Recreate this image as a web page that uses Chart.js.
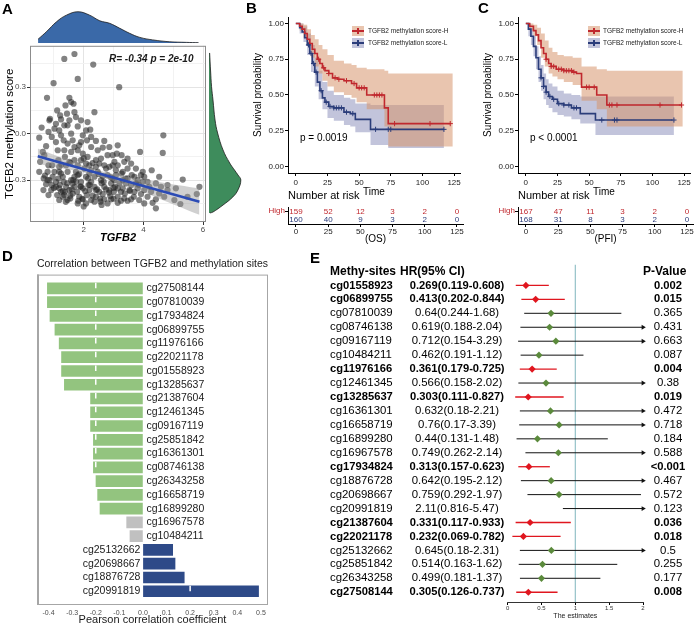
<!DOCTYPE html>
<html>
<head>
<meta charset="utf-8">
<script src="https://cdn.jsdelivr.net/npm/chart.js@4.4.1/dist/chart.umd.min.js"></script>
<style>
  body { margin: 0; background: #fff; }
  #page { position: relative; width: 695px; height: 627px; overflow: hidden; font-family: 'Liberation Sans', Arial, Helvetica, sans-serif; }
  #page canvas { position: absolute; }
  .txt { position: absolute; white-space: nowrap; color: #000; }
</style>
</head>
<body>
<div id="page">
  <canvas id="densTop" width="235" height="45" style="left:0px;top:0px"></canvas>
  <canvas id="scatterA" width="215" height="205" style="left:0px;top:40px"></canvas>
  <canvas id="densRight" width="45" height="190" style="left:205px;top:40px"></canvas>
  <canvas id="kmB" width="230" height="200" style="left:235px;top:0px"></canvas>
  <canvas id="riskB" width="230" height="55" style="left:235px;top:190px"></canvas>
  <canvas id="kmC" width="230" height="200" style="left:465px;top:0px"></canvas>
  <canvas id="riskC" width="230" height="55" style="left:465px;top:190px"></canvas>
  <canvas id="corD" width="290" height="377" style="left:0px;top:250px"></canvas>
  <canvas id="forestE" width="375" height="387" style="left:320px;top:240px"></canvas>
</div>
<script>
// ---- panel A : scatter TGFB2 vs methylation score ----
var scatterX = [1.69,1.35,2.32,1.80,0.99,3.19,0.77,1.52,0.87,1.24,
  1.58,1.66,1.39,1.11,1.69,1.44,2.36,1.21,1.52,1.91,
  0.59,0.51,0.82,1.02,1.18,0.93,1.24,1.46,1.80,2.22,
  1.97,2.25,1.91,2.41,2.69,2.64,1.85,1.69,1.33,1.07,
  0.74,0.68,4.67,4.65,3.89,3.11,3.47,3.27,2.97,3.36,
  3.03,2.80,2.58,2.41,2.13,1.97,1.58,1.37,1.15,0.94,
  0.51,0.54,0.79,1.02,1.24,1.46,1.74,2.02,2.25,2.47,
  2.80,3.08,3.27,3.47,3.70,4.03,4.28,4.53,3.61,2.97,
  2.58,2.25,1.91,1.58,1.33,1.07,0.96,0.74,0.65,0.91,
  1.18,1.41,1.69,1.97,2.19,2.36,2.69,2.92,3.14,3.42,
  3.59,3.81,4.03,4.20,4.42,4.59,4.81,5.09,5.32,5.88,
  1.11,1.35,1.63,1.85,2.11,2.41,2.64,2.89,3.14,3.38,
  3.68,3.92,4.14,4.42,4.70,5.04,5.24,4.42,1.80,2.80,
  3.14,3.47,4.03,1.46,0.82,5.48,5.79,1.82,1.18,2.36,
  2.52,3.01,1.78,1.52,2.75,3.31,2.97,2.08,1.69,1.41,
  1.80,1.35,1.63,2.11,2.69,2.41,3.75,3.98,3.03,3.31,
  3.81,4.14,1.30,1.69,2.08,2.36,3.25,3.70,3.36,2.69,
  2.08,1.24,
  1.2,1.45,1.6,1.75,1.9,2.05,2.2,2.45,2.6,2.85,3.0,1.3,1.55,2.3,2.55,1.95,2.75,3.2,1.0,
  1.65,2.15,2.5,1.85,1.15,3.55,3.85,2.0,1.55,2.3,1.25,0.85,0.7,2.9,3.4,1.4,2.0,2.6,3.0,
  1.18,1.52,1.91,2.19,2.52,2.86,3.14,3.59,0.79,1.07,1.37,1.63,1.89,2.16,2.41,2.67,2.86,3.05,3.31,3.53,
  3.75,3.98,4.26,4.53,4.81,1.30,1.55,1.97,2.25,2.56,2.92,3.25,3.59,3.86,4.31,1.18,1.80,2.19,2.64,3.08,
  3.47,3.92,0.93,0.66,0.82,0.63,1.13,1.46,1.80,2.25,2.47,2.86,3.14,1.58,2.08,1.35,1.07,0.85,1.74,2.13];
var scatterY = [0.514,0.482,0.446,0.353,0.326,0.300,0.231,0.231,0.096,0.092,
  0.204,0.193,0.182,0.150,0.139,0.129,0.139,0.118,0.086,0.086,
  0.039,-0.026,0.011,0.032,0.021,-0.021,-0.011,0.054,0.047,0.026,
  -0.011,-0.021,-0.054,-0.047,-0.047,-0.090,-0.075,-0.086,-0.043,-0.054,
  -0.081,-0.139,-0.011,-0.124,-0.118,-0.129,-0.161,-0.139,-0.139,-0.182,
  -0.182,-0.139,-0.161,-0.171,-0.150,-0.129,-0.118,-0.150,-0.171,-0.204,
  -0.246,-0.182,-0.246,-0.246,-0.257,-0.246,-0.246,-0.225,-0.236,-0.246,
  -0.268,-0.236,-0.257,-0.225,-0.278,-0.278,-0.236,-0.278,-0.268,-0.289,
  -0.300,-0.311,-0.311,-0.300,-0.311,-0.311,-0.278,-0.326,-0.364,-0.364,
  -0.353,-0.343,-0.343,-0.353,-0.364,-0.343,-0.343,-0.321,-0.353,-0.321,
  -0.332,-0.353,-0.364,-0.343,-0.321,-0.343,-0.364,-0.353,-0.296,-0.343,
  -0.396,-0.396,-0.386,-0.407,-0.396,-0.407,-0.390,-0.403,-0.407,-0.386,
  -0.407,-0.390,-0.407,-0.424,-0.407,-0.428,-0.454,-0.482,-0.450,-0.450,
  -0.446,-0.433,-0.450,-0.428,-0.396,-0.407,-0.390,-0.433,-0.428,-0.439,
  -0.375,-0.375,-0.375,-0.364,-0.225,-0.246,-0.204,-0.193,-0.171,-0.204,
  -0.204,-0.107,-0.043,-0.043,-0.204,-0.214,-0.225,-0.246,-0.300,-0.300,
  -0.300,-0.311,-0.278,-0.278,-0.278,-0.278,-0.375,-0.375,-0.418,-0.424,
  -0.450,-0.375,
  -0.33,-0.32,-0.36,-0.31,-0.34,-0.37,-0.33,-0.36,-0.32,-0.38,-0.35,-0.37,-0.40,-0.40,-0.42,-0.42,-0.36,-0.32,-0.35,
  -0.30,-0.29,-0.26,-0.26,-0.29,-0.37,-0.33,-0.16,-0.19,-0.19,-0.20,-0.30,-0.27,-0.28,-0.29,-0.44,-0.47,-0.46,-0.42,
  -0.214,-0.182,-0.171,-0.204,-0.193,-0.214,-0.204,-0.193,-0.300,-0.343,-0.375,-0.321,-0.343,-0.332,-0.364,-0.311,-0.364,-0.343,-0.353,-0.364,
  -0.321,-0.311,-0.375,-0.386,-0.332,-0.407,-0.418,-0.424,-0.428,-0.439,-0.424,-0.433,-0.424,-0.428,-0.446,-0.246,-0.268,-0.257,-0.274,-0.268,
  -0.289,-0.268,-0.332,-0.289,-0.204,-0.118,-0.107,-0.064,-0.107,-0.086,-0.107,-0.086,-0.075,0.0,0.021,0.054,0.064,0.086,0.107,0.075];
var regLineX = [0.46, 5.88];
var regLineY = [-0.146, -0.439];
var regBandX = [0.46, 1.5, 2.5, 3.5, 4.5, 5.88];
var regBandLower = [-0.196, -0.232, -0.274, -0.34, -0.416, -0.524];
var regBandUpper = [-0.096, -0.172, -0.238, -0.28, -0.312, -0.354];
var scatterTicksX = [1, 2, 3, 4, 5, 6];
var scatterTicksY = [-0.45, -0.3, -0.15, 0, 0.15, 0.3, 0.45];

// marginal densities
var densTopX = [0.47, 0.75, 1.09, 1.42, 1.81, 2.20, 2.54, 2.87, 3.21, 3.54, 3.88, 4.31, 4.88, 5.44, 5.85];
var densTopH = [0.12, 0.36, 0.68, 0.89, 1.0, 0.89, 0.71, 0.63, 0.47, 0.31, 0.18, 0.10, 0.04, 0.02, 0.01];
var densRightY = [0.516, 0.40, 0.30, 0.214, 0.085, 0.002, -0.107, -0.191, -0.236, -0.268, -0.30, -0.364, -0.409, -0.461, -0.506, -0.512];
var densRightH = [0.02, 0.05, 0.08, 0.125, 0.19, 0.27, 0.44, 0.65, 0.80, 0.91, 1.0, 0.91, 0.75, 0.44, 0.125, 0.03];

// ---- panels B and C : survival ----
var riskTimes = [0, 25, 50, 75, 100, 125];
var osRiskHigh = [159, 52, 12, 3, 2, 0];
var osRiskLow = [160, 40, 9, 3, 2, 0];
var pfiRiskHigh = [167, 47, 11, 3, 2, 0];
var pfiRiskLow = [168, 31, 8, 3, 2, 0];

var osHighT = [0, 3, 5, 7, 9, 11, 13, 15, 17, 19, 21, 23, 26, 29, 33, 38, 44, 48, 56, 70, 73, 122];
var osHighS = [1, 0.98, 0.96, 0.93, 0.89, 0.86, 0.82, 0.79, 0.75, 0.72, 0.69, 0.67, 0.65, 0.62, 0.61, 0.60, 0.58, 0.55, 0.50, 0.41, 0.30, 0.30];
var osLowT = [0, 3, 5, 7, 9, 11, 13, 15, 17, 19, 21, 23, 26, 30, 38, 43, 47, 59, 117];
var osLowS = [1, 0.97, 0.94, 0.90, 0.85, 0.79, 0.72, 0.66, 0.59, 0.53, 0.48, 0.45, 0.42, 0.41, 0.38, 0.37, 0.33, 0.26, 0.26];
var osHighBandT = [0, 3, 6, 9, 12, 15, 18, 21, 25, 30, 38, 44, 48, 56, 70, 73, 124];
var osHighUpper = [1, 1, 0.99, 0.96, 0.92, 0.89, 0.85, 0.82, 0.78, 0.74, 0.72, 0.71, 0.69, 0.68, 0.67, 0.65, 0.65];
var osHighLower = [1, 0.95, 0.90, 0.84, 0.76, 0.70, 0.65, 0.60, 0.56, 0.52, 0.50, 0.48, 0.45, 0.40, 0.28, 0.14, 0.14];
var osLowBandT = [0, 3, 6, 9, 12, 15, 18, 21, 25, 30, 38, 43, 47, 59, 73, 117];
var osLowUpper = [1, 1, 0.98, 0.93, 0.85, 0.76, 0.67, 0.59, 0.53, 0.50, 0.48, 0.47, 0.44, 0.43, 0.43, 0.43];
var osLowLower = [1, 0.93, 0.87, 0.78, 0.66, 0.56, 0.47, 0.40, 0.34, 0.32, 0.29, 0.28, 0.24, 0.15, 0.13, 0.13];
var osHighCens = [18, 22, 26, 31, 34, 40, 46, 50, 52, 54, 62, 64, 66, 68, 78, 106, 122];
var osLowCens = [10, 12, 14, 16, 20, 24, 27, 30, 32, 34, 36, 40, 45, 63, 73, 75, 117];

var pfiHighT = [0, 3, 6, 8, 10, 12, 14, 16, 18, 20, 24, 30, 37, 40, 44, 56, 64, 123];
var pfiHighS = [1, 0.98, 0.95, 0.92, 0.88, 0.83, 0.79, 0.75, 0.72, 0.70, 0.68, 0.67, 0.66, 0.65, 0.555, 0.50, 0.43, 0.43];
var pfiLowT = [0, 2, 4, 6, 8, 10, 12, 14, 16, 18, 21, 25, 30, 36, 43, 55, 116];
var pfiLowS = [1, 0.96, 0.91, 0.84, 0.76, 0.68, 0.62, 0.56, 0.52, 0.49, 0.47, 0.44, 0.43, 0.41, 0.37, 0.325, 0.325];
var pfiHighBandT = [0, 3, 6, 9, 12, 15, 18, 21, 25, 30, 37, 44, 56, 64, 124];
var pfiHighUpper = [1, 1, 0.99, 0.97, 0.93, 0.88, 0.83, 0.80, 0.78, 0.77, 0.76, 0.70, 0.68, 0.67, 0.67];
var pfiHighLower = [1, 0.95, 0.91, 0.85, 0.76, 0.70, 0.65, 0.63, 0.61, 0.59, 0.57, 0.46, 0.40, 0.28, 0.28];
var pfiLowBandT = [0, 2, 4, 6, 8, 10, 12, 14, 16, 18, 21, 25, 30, 36, 43, 55, 117];
var pfiLowUpper = [1, 1, 0.97, 0.91, 0.84, 0.77, 0.71, 0.65, 0.61, 0.58, 0.56, 0.53, 0.51, 0.50, 0.49, 0.49, 0.49];
var pfiLowLower = [1, 0.91, 0.85, 0.77, 0.68, 0.59, 0.53, 0.47, 0.43, 0.41, 0.38, 0.36, 0.35, 0.33, 0.30, 0.22, 0.22];
var pfiHighCens = [16, 20, 22, 26, 28, 30, 32, 34, 36, 38, 48, 50, 54, 66, 68, 72, 106, 123];
var pfiLowCens = [12, 14, 16, 19, 22, 26, 30, 34, 38, 40, 60, 70, 72, 117];

// ---- panel D : correlation bars ----
var corSites = ['cg27508144','cg07810039','cg17934824','cg06899755','cg11976166','cg22021178','cg01558923','cg13285637',
  'cg21387604','cg12461345','cg09167119','cg25851842','cg16361301','cg08746138','cg26343258','cg16658719','cg16899280',
  'cg16967578','cg10484211','cg25132662','cg20698667','cg18876728','cg20991819'];
var corValues = [-0.405,-0.405,-0.394,-0.373,-0.355,-0.345,-0.345,-0.333,-0.222,-0.222,-0.222,-0.21,-0.21,-0.21,
  -0.199,-0.192,-0.182,-0.069,-0.055,0.126,0.136,0.175,0.49];
var corTicks = [-0.4, -0.3, -0.2, -0.1, 0, 0.1, 0.2, 0.3, 0.4, 0.5];

// ---- panel E : forest ----
var forestSites = ['cg01558923','cg06899755','cg07810039','cg08746138','cg09167119','cg10484211','cg11976166','cg12461345',
  'cg13285637','cg16361301','cg16658719','cg16899280','cg16967578','cg17934824','cg18876728','cg20698667','cg20991819',
  'cg21387604','cg22021178','cg25132662','cg25851842','cg26343258','cg27508144'];
var forestHR = [0.269,0.413,0.64,0.619,0.712,0.462,0.361,0.566,0.303,0.632,0.76,0.44,0.749,0.313,0.642,0.759,2.11,0.331,0.232,0.645,0.514,0.499,0.305];
var forestLo = [0.119,0.202,0.244,0.188,0.154,0.191,0.179,0.158,0.111,0.18,0.17,0.131,0.262,0.157,0.195,0.292,0.816,0.117,0.069,0.18,0.163,0.181,0.126];
var forestHi = [0.608,0.844,1.68,2.04,3.29,1.12,0.725,2.02,0.827,2.21,3.39,1.48,2.14,0.623,2.12,1.97,5.47,0.933,0.782,2.31,1.62,1.37,0.737];
var forestP = ['0.002','0.015','0.365','0.431','0.663','0.087','0.004','0.38','0.019','0.472','0.718','0.184','0.588','<0.001',
  '0.467','0.572','0.123','0.036','0.018','0.5','0.255','0.177','0.008'];
var forestTicks = [0, 0.5, 1, 1.5, 2];

var FONT = "'Liberation Sans', Arial, Helvetica, sans-serif";
Chart.defaults.font.family = FONT;
Chart.defaults.color = '#000';
Chart.defaults.animation = false;
Chart.defaults.responsive = false;
Chart.defaults.plugins.legend.display = false;
Chart.defaults.plugins.tooltip.enabled = false;

var page = document.getElementById('page');
function putText(str, left, midY, size, style) {
  var d = document.createElement('div');
  d.className = 'txt';
  d.textContent = str;
  d.style.left = left + 'px';
  d.style.top = (midY - size * 0.49) + 'px';
  d.style.fontSize = size + 'px';
  d.style.lineHeight = size + 'px';
  if (style) Object.assign(d.style, style);
  page.appendChild(d);
  return d;
}
function fixedTicks(list) {
  return function (scale) { scale.ticks = list.map(function (v) { return { value: v }; }); };
}
function pts(xs, ys) {
  return xs.map(function (x, i) { return { x: x, y: ys[i] }; });
}

var framePlugin = {
  id: 'frame',
  afterDatasetsDraw: function (chart, args, opts) {
    var a = chart.chartArea, ctx = chart.ctx;
    ctx.save();
    ctx.strokeStyle = opts.color || '#888';
    ctx.lineWidth = 1;
    ctx.strokeRect(a.left + 0.5, a.top + 0.5, a.right - a.left - 1, a.bottom - a.top - 1);
    if (opts.leftWidth) {
      ctx.lineWidth = opts.leftWidth;
      ctx.beginPath();
      ctx.moveTo(a.left + 1, a.top);
      ctx.lineTo(a.left + 1, a.bottom);
      ctx.stroke();
    }
    ctx.restore();
  }
};

// letters
putText('A', 2, 8, 15, { fontWeight: 'bold' });
putText('B', 246, 7.5, 15, { fontWeight: 'bold' });
putText('C', 478, 7.5, 15, { fontWeight: 'bold' });
putText('D', 2, 255, 15, { fontWeight: 'bold' });
putText('E', 310, 257, 15, { fontWeight: 'bold' });

// top density
new Chart(document.getElementById('densTop'), {
  type: 'line',
  data: { datasets: [{ data: pts(densTopX, densTopH), fill: 'origin', backgroundColor: '#3a69a8',
    borderColor: '#1a1a1a', borderWidth: 0.8, pointRadius: 0, tension: 0.4 }] },
  options: {
    layout: { padding: { left: 30, right: 29, top: 8, bottom: 2 } },
    scales: {
      x: { type: 'linear', min: 0.2, max: 6.1, display: false },
      y: { type: 'linear', min: 0, max: 1.12, display: false }
    }
  }
});

// right density
new Chart(document.getElementById('densRight'), {
  type: 'line',
  data: { datasets: [{ data: pts(densRightH, densRightY), fill: 'origin', backgroundColor: '#3e8c5c',
    borderColor: '#1a1a1a', borderWidth: 0.8, pointRadius: 0, tension: 0.4 }] },
  options: {
    indexAxis: 'y',
    layout: { padding: { left: 4, right: 6, top: 5, bottom: 8 } },
    scales: {
      x: { type: 'linear', min: 0, max: 1.1, display: false },
      y: { type: 'linear', min: -0.57, max: 0.567, display: false }
    }
  }
});

// scatter A
new Chart(document.getElementById('scatterA'), {
  type: 'line',
  data: { datasets: [
    { data: pts(regBandX, regBandUpper), fill: '+1', backgroundColor: 'rgba(150,150,150,0.45)', borderWidth: 0,
      pointRadius: 0, tension: 0.3, order: 2 },
    { data: pts(regBandX, regBandLower), fill: false, borderWidth: 0, pointRadius: 0, tension: 0.3, order: 2 },
    { data: pts(regLineX, regLineY), borderColor: '#2b4bb5', borderWidth: 2.5, pointRadius: 0, order: 1 },
    { data: pts(scatterX, scatterY), showLine: false, pointRadius: 3.1, pointBorderWidth: 0,
      pointBackgroundColor: 'rgba(40,40,40,0.58)', order: 3 }
  ] },
  options: {
    layout: { padding: { top: 5, right: 9 } },
    plugins: { frame: { color: '#8c8c8c' } },
    scales: {
      x: {
        type: 'linear', min: 0.2, max: 6.1,
        afterBuildTicks: fixedTicks(scatterTicksX),
        afterFit: function (s) { s.height = 23; },
        ticks: { font: { size: 8 }, color: '#4d4d4d', padding: 0,
          callback: function (v) { return v % 2 === 0 ? String(v) : ''; } },
        grid: { color: function (c) { return c.tick && c.tick.value % 2 === 0 ? '#e4e4e4' : '#f2f2f2'; },
          tickColor: function (c) { return c.tick && c.tick.value % 2 === 0 ? '#333' : 'rgba(0,0,0,0)'; },
          tickLength: 3 },
        border: { display: false },
        title: { display: true, text: 'TGFB2', font: { size: 11, weight: 'bold', style: 'italic' }, padding: 0 }
      },
      y: {
        type: 'linear', min: -0.57, max: 0.567,
        afterBuildTicks: fixedTicks(scatterTicksY),
        afterFit: function (s) { s.width = 30; },
        ticks: { font: { size: 8 }, color: '#4d4d4d', padding: 1,
          callback: function (v) { return Math.round(v * 100) % 30 === 0 ? v.toFixed(1) : ''; } },
        grid: { color: function (c) { return c.tick && Math.round(c.tick.value * 100) % 30 === 0 ? '#e4e4e4' : '#f2f2f2'; },
          tickColor: function (c) { return c.tick && Math.round(c.tick.value * 100) % 30 === 0 ? '#333' : 'rgba(0,0,0,0)'; },
          tickLength: 3 },
        border: { display: false },
        title: { display: true, text: 'TGFB2 methylation score', font: { size: 11.5 }, padding: { top: 3, bottom: 0 } }
      }
    }
  },
  plugins: [framePlugin]
});
putText('R= -0.34  p = 2e-10', 109, 59, 10, { fontWeight: 'bold', fontStyle: 'italic', color: '#1a1a1a' });

// survival panels
var RED = '#c0282e', NAVY = '#2b3d7a';
var RED_BAND = 'rgba(215,150,110,0.55)', NAVY_BAND = 'rgba(120,125,175,0.45)';

function stepAt(ts, ss, t) {
  var v = ss[0];
  for (var i = 0; i < ts.length; i++) { if (ts[i] <= t) v = ss[i]; }
  return v;
}
function cens(times, ts, ss) {
  return times.map(function (t) { return { x: t, y: stepAt(ts, ss, t) }; });
}

function kmChart(id, c) {
  new Chart(document.getElementById(id), {
    type: 'line',
    data: { datasets: [
      { data: pts(c.hiBandT, c.hiUp), stepped: true, fill: '+1', backgroundColor: RED_BAND, borderWidth: 0, pointRadius: 0, order: 3 },
      { data: pts(c.hiBandT, c.hiLo), stepped: true, fill: false, borderWidth: 0, pointRadius: 0, order: 3 },
      { data: pts(c.loBandT, c.loUp), stepped: true, fill: '+1', backgroundColor: NAVY_BAND, borderWidth: 0, pointRadius: 0, order: 3 },
      { data: pts(c.loBandT, c.loLo), stepped: true, fill: false, borderWidth: 0, pointRadius: 0, order: 3 },
      { data: pts(c.hiT, c.hiS), stepped: true, borderColor: RED, borderWidth: 1.6, pointRadius: 0, order: 1 },
      { data: pts(c.loT, c.loS), stepped: true, borderColor: NAVY, borderWidth: 1.6, pointRadius: 0, order: 1 },
      { data: cens(c.hiCens, c.hiT, c.hiS), showLine: false, pointStyle: 'cross', pointRadius: 2.6,
        pointBorderColor: RED, pointBorderWidth: 1, order: 0 },
      { data: cens(c.loCens, c.loT, c.loS), showLine: false, pointStyle: 'cross', pointRadius: 2.6,
        pointBorderColor: NAVY, pointBorderWidth: 1, order: 0 }
    ] },
    options: {
      layout: { padding: { top: 17, right: 2 } },
      scales: {
        x: {
          type: 'linear', min: -6.2, max: 129.7,
          afterBuildTicks: fixedTicks(riskTimes),
          afterFit: function (s) { s.height = 27; },
          ticks: { font: { size: 8 }, color: '#222', padding: 2 },
          grid: { drawOnChartArea: false, tickLength: 3, tickColor: '#000' },
          border: { color: '#000', width: 1 },
          title: { display: true, text: 'Time', font: { size: 10 }, padding: { top: 0, bottom: 2 } }
        },
        y: {
          type: 'linear', min: -0.045, max: 1.045,
          afterBuildTicks: fixedTicks([0, 0.25, 0.5, 0.75, 1]),
          afterFit: function (s) { s.width = 53; },
          ticks: { font: { size: 8 }, color: '#222', padding: 1, callback: function (v) { return v.toFixed(2); } },
          grid: { drawOnChartArea: false, tickLength: 3, tickColor: '#000' },
          border: { color: '#000', width: 1 },
          title: { display: true, text: 'Survival probability', font: { size: 10 }, padding: { top: 17, bottom: 0 } }
        }
      }
    }
  });
}

var riskPlugin = {
  id: 'riskNumbers',
  afterDraw: function (chart, args, opts) {
    var ctx = chart.ctx, xs = chart.scales.x, ys = chart.scales.y;
    ctx.save();
    ctx.font = '8px ' + FONT;
    ctx.textAlign = 'center';
    ctx.textBaseline = 'middle';
    [opts.high, opts.low].forEach(function (row, r) {
      ctx.fillStyle = r === 0 ? RED : NAVY;
      row.forEach(function (n, i) {
        ctx.fillText(String(n), xs.getPixelForValue(riskTimes[i]), ys.getPixelForValue(r) + 0.5);
      });
    });
    ctx.restore();
  }
};

function riskChart(id, title, high, low) {
  new Chart(document.getElementById(id), {
    type: 'line',
    data: { datasets: [{ data: [] }] },
    options: {
      layout: { padding: { top: 17, right: 2 } },
      plugins: { riskNumbers: { high: high, low: low } },
      scales: {
        x: {
          type: 'linear', min: -6.2, max: 129.7,
          afterBuildTicks: fixedTicks(riskTimes),
          afterFit: function (s) { s.height = 21; },
          ticks: { font: { size: 8 }, color: '#222', padding: 0 },
          grid: { drawOnChartArea: false, tickLength: 3, tickColor: '#000' },
          border: { color: '#000', width: 1 },
          title: { display: true, text: title, font: { size: 10 }, padding: 0 }
        },
        y: {
          type: 'category', labels: ['High', 'Low'], offset: true,
          afterFit: function (s) { s.width = 53; },
          ticks: { font: { size: 8 }, padding: 0, color: function (c) { return c.index === 0 ? RED : NAVY; } },
          grid: { drawOnChartArea: false, tickLength: 3, tickColor: '#000' },
          border: { color: '#000', width: 1 }
        }
      }
    },
    plugins: [riskPlugin]
  });
}

kmChart('kmB', { hiT: osHighT, hiS: osHighS, loT: osLowT, loS: osLowS,
  hiBandT: osHighBandT, hiUp: osHighUpper, hiLo: osHighLower,
  loBandT: osLowBandT, loUp: osLowUpper, loLo: osLowLower, hiCens: osHighCens, loCens: osLowCens });
kmChart('kmC', { hiT: pfiHighT, hiS: pfiHighS, loT: pfiLowT, loS: pfiLowS,
  hiBandT: pfiHighBandT, hiUp: pfiHighUpper, hiLo: pfiHighLower,
  loBandT: pfiLowBandT, loUp: pfiLowUpper, loLo: pfiLowLower, hiCens: pfiHighCens, loCens: pfiLowCens });
riskChart('riskB', '(OS)', osRiskHigh, osRiskLow);
riskChart('riskC', '(PFI)', pfiRiskHigh, pfiRiskLow);

function kmLegend(boxLeft, textLeft) {
  [['TGFB2 methylation score-H', RED, RED_BAND, 31], ['TGFB2 methylation score-L', NAVY, NAVY_BAND, 43]].forEach(function (r) {
    var box = document.createElement('div');
    box.style.cssText = 'position:absolute;left:' + boxLeft + 'px;top:' + (r[3] - 5) + 'px;width:12px;height:10px;background:' + r[2];
    box.innerHTML = '<div style="position:absolute;left:0;top:4px;width:12px;height:2px;background:' + r[1] + '"></div>' +
      '<div style="position:absolute;left:5px;top:2px;width:1.5px;height:6px;background:' + r[1] + '"></div>';
    page.appendChild(box);
    putText(r[0], textLeft, r[3], 6.5, { color: '#222' });
  });
}
kmLegend(352, 368);
kmLegend(588, 603);
putText('p = 0.0019', 300, 138, 10);
putText('p < 0.0001', 530, 138, 10);
putText('Number at risk', 288, 195, 11);
putText('Number at risk', 518, 195, 11);

// panel D
var barLabelPlugin = {
  id: 'barLabels',
  afterDatasetsDraw: function (chart) {
    var ctx = chart.ctx, xs = chart.scales.x, ys = chart.scales.y;
    var x0 = xs.getPixelForValue(0);
    ctx.save();
    // white marks at +-0.2
    ctx.strokeStyle = '#fff';
    ctx.lineWidth = 1.5;
    corValues.forEach(function (v, i) {
      var y = ys.getPixelForValue(i + 1);
      var mark = v < -0.2 ? -0.2 : (v > 0.2 ? 0.2 : null);
      if (mark !== null) {
        var xm = xs.getPixelForValue(mark);
        ctx.beginPath();
        ctx.moveTo(xm, y - 5.5);
        ctx.lineTo(xm, y);
        ctx.stroke();
      }
    });
    ctx.font = '10.5px ' + FONT;
    ctx.fillStyle = '#1a1a1a';
    ctx.textBaseline = 'middle';
    corSites.forEach(function (s, i) {
      var y = ys.getPixelForValue(i + 1);
      if (corValues[i] < 0) { ctx.textAlign = 'left'; ctx.fillText(s, x0 + 3.5, y); }
      else { ctx.textAlign = 'right'; ctx.fillText(s, x0 - 2.5, y); }
    });
    ctx.restore();
  }
};

new Chart(document.getElementById('corD'), {
  type: 'bar',
  data: { datasets: [{
    data: corValues.map(function (v, i) { return { x: v, y: i + 1 }; }),
    backgroundColor: corValues.map(function (v) { return v > 0 ? '#2e4a88' : (v > -0.1 ? '#c0c0c0' : '#93c47f'); }),
    barThickness: 11, borderWidth: 0
  }] },
  options: {
    indexAxis: 'y',
    layout: { padding: { left: 37, right: 22, top: 0 } },
    plugins: {
      title: { display: true, text: 'Correlation between TGFB2 and methylation sites', align: 'start',
        font: { size: 10.5, weight: 'normal' }, color: '#1a1a1a', padding: { top: 8, bottom: 4 } },
      frame: { color: '#a6a6a6', leftWidth: 2 }
    },
    scales: {
      x: {
        type: 'linear', min: -0.449, max: 0.53,
        afterBuildTicks: fixedTicks(corTicks),
        afterFit: function (s) { s.height = 22; },
        ticks: { font: { size: 7 }, color: '#4d4d4d', padding: 4, callback: function (v) { return v.toFixed(1); } },
        grid: { drawOnChartArea: false, drawTicks: false },
        border: { display: false },
        title: { display: true, text: 'Pearson correlation coefficient', font: { size: 11 }, color: '#1a1a1a', padding: 0 }
      },
      y: { type: 'linear', min: 0, max: 24, reverse: true, offset: false, display: false }
    }
  },
  plugins: [framePlugin, barLabelPlugin]
});

// panel E
function isSig(p) { return parseFloat(p.replace('<', '')) < 0.05; }
var F_RED = '#e0161f', F_GREEN = '#5b8a3c';
var forestSets = [{ data: [{ x: 1, y: -0.5 }, { x: 1, y: 23.7 }], borderColor: '#9cc6cc', borderWidth: 1.3, pointRadius: 0, order: 5 }];
forestSites.forEach(function (s, i) {
  var sig = isSig(forestP[i]);
  var col = sig ? F_RED : '#111';
  var over = forestHi[i] > 2;
  forestSets.push({
    data: [{ x: forestLo[i], y: i + 1 }, { x: Math.min(forestHi[i], 2), y: i + 1 }],
    borderColor: col, borderWidth: sig ? 1.3 : 1, clip: false,
    pointStyle: 'triangle', pointRotation: 90, pointRadius: [0, over ? 2.8 : 0],
    pointBackgroundColor: col, pointBorderWidth: 0, order: 2
  });
});
var diamonds = [], diamondColors = [];
forestHR.forEach(function (h, i) {
  if (h <= 2) { diamonds.push({ x: h, y: i + 1 }); diamondColors.push(isSig(forestP[i]) ? F_RED : F_GREEN); }
});
forestSets.push({ data: diamonds, showLine: false, pointStyle: 'rectRot', pointRadius: 3.6,
  pointBackgroundColor: diamondColors, pointBorderWidth: 0, order: 0 });

var forestTextPlugin = {
  id: 'forestText',
  afterDraw: function (chart) {
    var ctx = chart.ctx, ys = chart.scales.y;
    ctx.save();
    ctx.fillStyle = '#000';
    ctx.textBaseline = 'middle';
    var hy = ys.getPixelForValue(0);
    ctx.font = 'bold 12px ' + FONT;
    ctx.textAlign = 'left';
    ctx.fillText('Methy-sites', 10, hy);
    ctx.fillText('HR(95% CI)', 80, hy);
    ctx.fillText('P-Value', 323, hy);
    forestSites.forEach(function (s, i) {
      var y = ys.getPixelForValue(i + 1);
      var sig = isSig(forestP[i]);
      ctx.font = (sig ? 'bold 11.2px ' : '11.4px ') + FONT;
      ctx.textAlign = 'left';
      ctx.fillText(s, 10, y);
      ctx.textAlign = 'center';
      ctx.fillText(forestHR[i] + '(' + forestLo[i] + '-' + forestHi[i] + ')', 137, y);
      ctx.fillText(forestP[i], 348, y);
    });
    ctx.restore();
  }
};

new Chart(document.getElementById('forestE'), {
  type: 'line',
  data: { datasets: forestSets },
  options: {
    layout: { padding: { left: 187.7, right: 52, top: 24.5 } },
    scales: {
      x: {
        type: 'linear', min: 0, max: 2,
        afterBuildTicks: fixedTicks(forestTicks),
        afterFit: function (s) { s.height = 25; },
        ticks: { font: { size: 6 }, color: '#333', padding: 0, callback: function (v) { return String(v); } },
        grid: { drawOnChartArea: false, tickLength: 3, tickColor: '#000' },
        border: { color: '#000', width: 0.8 },
        title: { display: true, text: 'The estimates', font: { size: 7 }, color: '#222', padding: { top: 0, bottom: 7 } }
      },
      y: { type: 'linear', min: -0.5, max: 23.7, reverse: true, display: false }
    }
  },
  plugins: [forestTextPlugin]
});
</script>
</body>
</html>
